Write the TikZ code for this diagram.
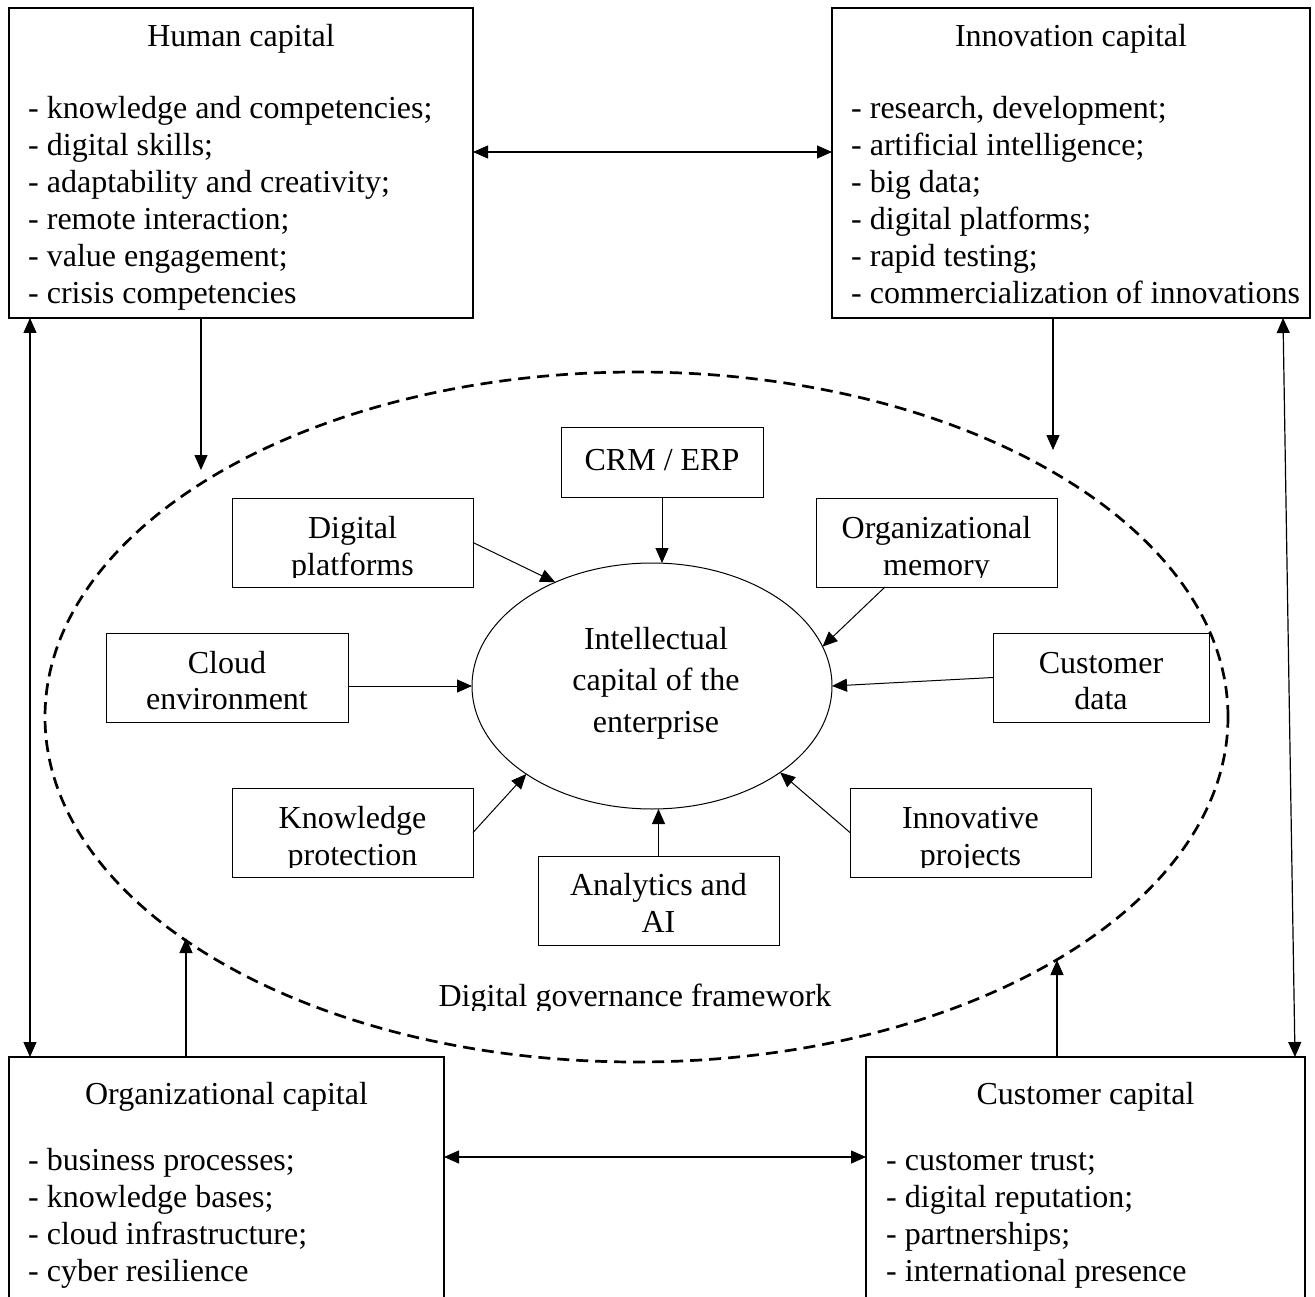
\documentclass[tikz,border=0pt]{standalone}
\usepackage{fontspec}
\setmainfont{Liberation Serif}
\usetikzlibrary{arrows.meta,shapes.geometric,calc}
\begin{document}
\begin{tikzpicture}[x=1pt,y=-1pt,
  font=\fontsize{32}{37}\selectfont,
  bx/.style={draw, line width=1.2pt, inner sep=0pt, outer sep=0pt},
  sbx/.style={draw, line width=1pt, inner sep=0pt, outer sep=0pt},
  arr/.style={line width=1.2pt, -{Triangle[length=15pt,width=13pt]}},
  darr/.style={line width=1.2pt, {Triangle[length=15pt,width=13pt]}-{Triangle[length=15pt,width=13pt]}},
  txt/.style={inner sep=0pt, anchor=base},
  ltxt/.style={inner sep=0pt, anchor=base west}]
\useasboundingbox (0,0) rectangle (1315,1297);

% dashed framework ellipse
\node[ellipse, draw, dashed, line width=2.7pt, dash pattern=on 12pt off 7pt,
      minimum width=1183pt, minimum height=690pt, inner sep=0pt, outer sep=0pt] (dg) at (636.5,717) {};

% big boxes
\node[bx, minimum width=464pt, minimum height=310pt] (hc) at (241,163) {};
\node[bx, minimum width=478pt, minimum height=310pt] (inc) at (1071,163) {};
\node[bx, minimum width=435pt, minimum height=283pt] (oc) at (226.5,1198.5) {};
\node[bx, minimum width=439pt, minimum height=283pt] (cc) at (1085.5,1198.5) {};

\node[txt] (hct) at (241,47) {Human capital};
\foreach \t [count=\i] in {{- knowledge and competencies;},{- digital skills;},{- adaptability and creativity;},{- remote interaction;},{- value engagement;},{- crisis competencies}}
  \node[ltxt] (hcl\i) at (28,{119+37*(\i-1)}) {\t};

\node[txt] (inct) at (1071,47) {Innovation capital};
\foreach \t [count=\i] in {{- research, development;},{- artificial intelligence;},{- big data;},{- digital platforms;},{- rapid testing;},{- commercialization of innovations}}
  \node[ltxt] (incl\i) at (851,{119+37*(\i-1)}) {\t};

\node[txt] (oct) at (226.5,1104) {Organizational capital};
\foreach \t [count=\i] in {{- business processes;},{- knowledge bases;},{- cloud infrastructure;},{- cyber resilience}}
  \node[ltxt] (ocl\i) at (28,{1170+37*(\i-1)}) {\t};

\node[txt] (cct) at (1085.5,1104) {Customer capital};
\foreach \t [count=\i] in {{- customer trust;},{- digital reputation;},{- partnerships;},{- international presence}}
  \node[ltxt] (ccl\i) at (886,{1170+37*(\i-1)}) {\t};

% central ellipse
\node[ellipse, draw, line width=1pt, minimum width=360pt, minimum height=246pt, inner sep=0pt, outer sep=0pt] (ic) at (652,686) {};
\node[txt] (ic1) at (656,649) {Intellectual};
\node[txt] (ic2) at (656,690) {capital of the};
\node[txt] (ic3) at (656,732) {enterprise};

% inner boxes
\node[sbx, minimum width=202pt, minimum height=70pt] (crm) at (662,462) {};
\node[txt] (crmt) at (662,470) {CRM / ERP};

\node[sbx, minimum width=241pt, minimum height=89pt] (dp) at (352.5,542.5) {};
\node[txt] (dpt1) at (352.5,538) {Digital};
\begin{scope}\clip (232,498) rectangle (473,577);
\node[txt] (dpt2) at (352.5,575) {platforms};
\end{scope}

\node[sbx, minimum width=241pt, minimum height=89pt] (om) at (936.5,542.5) {};
\node[txt] (omt1) at (936.5,538) {Organizational};
\begin{scope}\clip (816,498) rectangle (1057,577);
\node[txt] (omt2) at (936.5,575) {memory};
\end{scope}

\node[sbx, minimum width=242pt, minimum height=89pt] (ce) at (227,677.5) {};
\node[txt] (cet1) at (227,673) {Cloud};
\node[txt] (cet2) at (227,709) {environment};

\node[sbx, minimum width=216pt, minimum height=89pt] (cd) at (1101,677.5) {};
\node[txt] (cdt1) at (1101,673) {Customer};
\node[txt] (cdt2) at (1101,709) {data};

\node[sbx, minimum width=241pt, minimum height=89pt] (kp) at (352.5,832.5) {};
\node[txt] (kpt1) at (352.5,828) {Knowledge};
\begin{scope}\clip (232,788) rectangle (473,867);
\node[txt] (kpt2) at (352.5,865) {protection};
\end{scope}

\node[sbx, minimum width=241pt, minimum height=89pt] (ip) at (970.5,832.5) {};
\node[txt] (ipt1) at (970.5,828) {Innovative};
\begin{scope}\clip (850,788) rectangle (1091,867);
\node[txt] (ipt2) at (970.5,865) {projects};
\end{scope}

\node[sbx, minimum width=241pt, minimum height=89pt] (an) at (658.5,900.5) {};
\node[txt] (ant1) at (658.5,895) {Analytics and};
\node[txt] (ant2) at (658.5,932) {AI};

% framework label
\begin{scope}\clip (330,960) rectangle (940,1010);
\node[txt] (gov) at (635,1006) {Digital governance framework};
\end{scope}

% inner connectors
\draw[arr, line width=1pt] (crm.south) -- (crm.south |- ic.north);
\draw[arr, line width=1pt] (dp.east) -- (ic.133);
\draw[arr, line width=1pt] ($(om.south west)+(69,0)$) -- (ic.13);
\draw[arr, line width=1pt] (ce.east |- ic.west) -- (ic.west);
\draw[arr, line width=1pt] (cd.west) -- (ic.east);
\draw[arr, line width=1pt] (kp.east) -- (ic.215);
\draw[arr, line width=1pt] (ip.west) -- (ic.326);
\draw[arr, line width=1pt] (an.north) -- (an.north |- ic.south);

% outer connectors
\coordinate (ty) at (0,152);
\coordinate (by) at (0,1157);
\coordinate (lx) at (30,0);
\coordinate (rx1) at (1283,0);
\coordinate (rx2) at (1295,0);
\draw[darr] (hc.east |- ty) -- (inc.west |- ty);
\draw[darr] (oc.east |- by) -- (cc.west |- by);
\draw[darr] (hc.south -| lx) -- (oc.north -| lx);
\draw[darr] (inc.south -| rx1) -- (cc.north -| rx2);

\coordinate (h1) at (201,470);
\coordinate (i1) at (1053,450);
\coordinate (o1) at (186,938);
\coordinate (c1) at (1057,960);
\draw[arr] (hc.south -| h1) -- (h1);
\draw[arr] (inc.south -| i1) -- (i1);
\draw[arr] (oc.north -| o1) -- (o1);
\draw[arr] (cc.north -| c1) -- (c1);
\end{tikzpicture}
\end{document}
